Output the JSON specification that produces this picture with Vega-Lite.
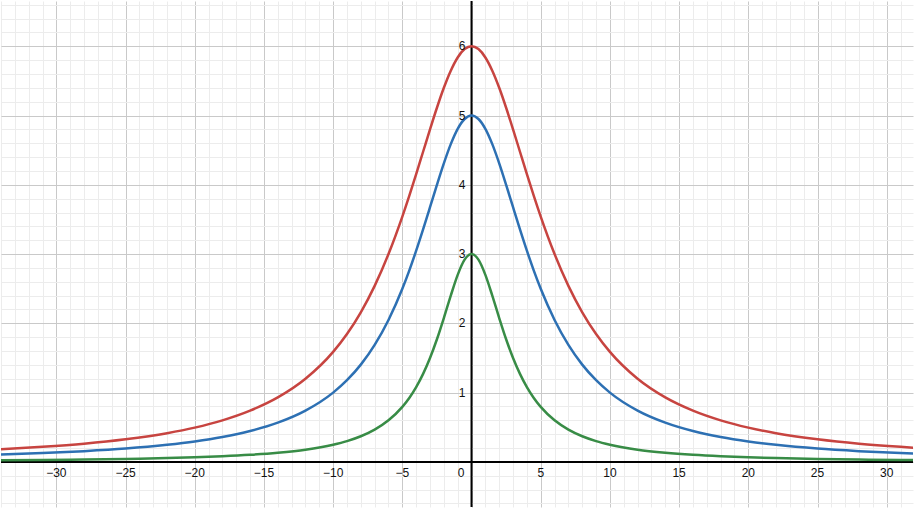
{
  "$schema": "https://vega.github.io/schema/vega-lite/v6.json",
  "width": 914,
  "height": 508,
  "autosize": {"type": "fit", "contains": "padding"},
  "padding": 0,
  "background": "white",
  "config": {"view": {"stroke": null}},
  "datasets": {
    "curves": [
      {"x": -34, "r": 0.181, "b": 0.106, "g": 0.023},
      {"x": -31, "r": 0.217, "b": 0.127, "g": 0.028},
      {"x": -28, "r": 0.263, "b": 0.155, "g": 0.034},
      {"x": -25, "r": 0.327, "b": 0.192, "g": 0.043},
      {"x": -22, "r": 0.415, "b": 0.246, "g": 0.055},
      {"x": -20, "r": 0.495, "b": 0.294, "g": 0.066},
      {"x": -18, "r": 0.6, "b": 0.358, "g": 0.081},
      {"x": -16, "r": 0.74, "b": 0.445, "g": 0.102},
      {"x": -14, "r": 0.931, "b": 0.566, "g": 0.132},
      {"x": -12, "r": 1.2, "b": 0.74, "g": 0.176},
      {"x": -10, "r": 1.588, "b": 1.0, "g": 0.248},
      {"x": -9, "r": 1.846, "b": 1.179, "g": 0.3},
      {"x": -8, "r": 2.16, "b": 1.404, "g": 0.37},
      {"x": -7, "r": 2.541, "b": 1.689, "g": 0.466},
      {"x": -6, "r": 3.0, "b": 2.049, "g": 0.6},
      {"x": -5, "r": 3.541, "b": 2.5, "g": 0.794},
      {"x": -4.5, "r": 3.84, "b": 2.762, "g": 0.923},
      {"x": -4, "r": 4.154, "b": 3.049, "g": 1.08},
      {"x": -3.5, "r": 4.477, "b": 3.356, "g": 1.271},
      {"x": -3, "r": 4.8, "b": 3.676, "g": 1.5},
      {"x": -2.5, "r": 5.112, "b": 4.0, "g": 1.77},
      {"x": -2, "r": 5.4, "b": 4.31, "g": 2.077},
      {"x": -1.5, "r": 5.647, "b": 4.587, "g": 2.4},
      {"x": -1, "r": 5.838, "b": 4.808, "g": 2.7},
      {"x": -0.5, "r": 5.959, "b": 4.95, "g": 2.919},
      {"x": 0, "r": 6, "b": 5, "g": 3},
      {"x": 0.5, "r": 5.959, "b": 4.95, "g": 2.919},
      {"x": 1, "r": 5.838, "b": 4.808, "g": 2.7},
      {"x": 1.5, "r": 5.647, "b": 4.587, "g": 2.4},
      {"x": 2, "r": 5.4, "b": 4.31, "g": 2.077},
      {"x": 2.5, "r": 5.112, "b": 4.0, "g": 1.77},
      {"x": 3, "r": 4.8, "b": 3.676, "g": 1.5},
      {"x": 3.5, "r": 4.477, "b": 3.356, "g": 1.271},
      {"x": 4, "r": 4.154, "b": 3.049, "g": 1.08},
      {"x": 4.5, "r": 3.84, "b": 2.762, "g": 0.923},
      {"x": 5, "r": 3.541, "b": 2.5, "g": 0.794},
      {"x": 6, "r": 3.0, "b": 2.049, "g": 0.6},
      {"x": 7, "r": 2.541, "b": 1.689, "g": 0.466},
      {"x": 8, "r": 2.16, "b": 1.404, "g": 0.37},
      {"x": 9, "r": 1.846, "b": 1.179, "g": 0.3},
      {"x": 10, "r": 1.588, "b": 1.0, "g": 0.248},
      {"x": 12, "r": 1.2, "b": 0.74, "g": 0.176},
      {"x": 14, "r": 0.931, "b": 0.566, "g": 0.132},
      {"x": 16, "r": 0.74, "b": 0.445, "g": 0.102},
      {"x": 18, "r": 0.6, "b": 0.358, "g": 0.081},
      {"x": 20, "r": 0.495, "b": 0.294, "g": 0.066},
      {"x": 22, "r": 0.415, "b": 0.246, "g": 0.055},
      {"x": 25, "r": 0.327, "b": 0.192, "g": 0.043},
      {"x": 28, "r": 0.263, "b": 0.155, "g": 0.034},
      {"x": 31, "r": 0.217, "b": 0.127, "g": 0.028},
      {"x": 32, "r": 0.204, "b": 0.119, "g": 0.026}
    ],
    "xlabels": [
      {"x": -30, "label": "−30"}, {"x": -25, "label": "−25"}, {"x": -20, "label": "−20"},
      {"x": -15, "label": "−15"}, {"x": -10, "label": "−10"}, {"x": -5, "label": "−5"},
      {"x": 5, "label": "5"}, {"x": 10, "label": "10"}, {"x": 15, "label": "15"},
      {"x": 20, "label": "20"}, {"x": 25, "label": "25"}, {"x": 30, "label": "30"}
    ],
    "ylabels": [
      {"y": 1, "label": "1"}, {"y": 2, "label": "2"}, {"y": 3, "label": "3"},
      {"y": 4, "label": "4"}, {"y": 5, "label": "5"}, {"y": 6, "label": "6"}
    ],
    "origin": [{"x": 0, "y": 0, "label": "0"}]
  },
  "layer": [
    {
      "data": {"values": [{"v": 0}]},
      "mark": {"type": "rule", "color": "#000000", "strokeWidth": 2},
      "encoding": {
        "x": {"field": "v", "type": "quantitative",
          "scale": {"domain": [-34.0, 31.9], "nice": false, "zero": false},
          "axis": {"values": [-30, -25, -20, -15, -10, -5, 0, 5, 10, 15, 20, 25, 30], "grid": true, "gridColor": "#c9c9c9", "gridWidth": 1, "labels": false, "ticks": false, "domain": false, "title": null}}
      }
    },
    {
      "data": {"values": [{"v": 0}]},
      "mark": {"type": "rule", "color": "#000000", "strokeWidth": 2},
      "encoding": {
        "y": {"field": "v", "type": "quantitative",
          "scale": {"domain": [-0.651, 6.653], "nice": false, "zero": false},
          "axis": {"values": [0, 1, 2, 3, 4, 5, 6], "grid": true, "gridColor": "#c9c9c9", "gridWidth": 1, "labels": false, "ticks": false, "domain": false, "title": null}}
      }
    },
    {
      "data": {"name": "curves"},
      "transform": [{"fold": ["r", "b", "g"], "as": ["series", "value"]}],
      "mark": {"type": "line", "strokeWidth": 2.5, "interpolate": "monotone", "clip": true},
      "encoding": {
        "x": {"field": "x", "type": "quantitative",
          "scale": {"domain": [-34.0, 31.9], "nice": false, "zero": false},
          "axis": {"values": [-34, -33, -32, -31, -29, -28, -27, -26, -24, -23, -22, -21, -19, -18, -17, -16, -14, -13, -12, -11, -9, -8, -7, -6, -4, -3, -2, -1, 1, 2, 3, 4, 6, 7, 8, 9, 11, 12, 13, 14, 16, 17, 18, 19, 21, 22, 23, 24, 26, 27, 28, 29, 31], "grid": true, "gridColor": "#ececec", "gridWidth": 1, "labels": false, "ticks": false, "domain": false, "title": null}},
        "y": {"field": "value", "type": "quantitative",
          "scale": {"domain": [-0.651, 6.653], "nice": false, "zero": false},
          "axis": {"values": [-0.6, -0.4, -0.2, 0.2, 0.4, 0.6, 0.8, 1.2, 1.4, 1.6, 1.8, 2.2, 2.4, 2.6, 2.8, 3.2, 3.4, 3.6, 3.8, 4.2, 4.4, 4.6, 4.8, 5.2, 5.4, 5.6, 5.8, 6.2, 6.4, 6.6], "grid": true, "gridColor": "#ececec", "gridWidth": 1, "labels": false, "ticks": false, "domain": false, "title": null}},
        "color": {"field": "series", "type": "nominal",
          "scale": {"domain": ["r", "b", "g"], "range": ["#c74440", "#2d70b3", "#388c46"]},
          "legend": null}
      }
    },
    {
      "data": {"name": "xlabels"},
      "mark": {"type": "text", "font": "Liberation Sans", "fontSize": 12, "color": "#111111", "baseline": "middle", "align": "center", "dy": 11},
      "encoding": {
        "x": {"field": "x", "type": "quantitative", "scale": {"domain": [-34.0, 31.9], "nice": false, "zero": false}, "axis": null},
        "y": {"datum": 0, "type": "quantitative", "scale": {"domain": [-0.651, 6.653], "nice": false, "zero": false}, "axis": null},
        "text": {"field": "label"}
      }
    },
    {
      "data": {"name": "ylabels"},
      "mark": {"type": "text", "font": "Liberation Sans", "fontSize": 12, "color": "#111111", "baseline": "middle", "align": "right", "dx": -6},
      "encoding": {
        "x": {"datum": 0, "type": "quantitative", "scale": {"domain": [-34.0, 31.9], "nice": false, "zero": false}, "axis": null},
        "y": {"field": "y", "type": "quantitative", "scale": {"domain": [-0.651, 6.653], "nice": false, "zero": false}, "axis": null},
        "text": {"field": "label"}
      }
    },
    {
      "data": {"name": "origin"},
      "mark": {"type": "text", "font": "Liberation Sans", "fontSize": 12, "color": "#111111", "baseline": "middle", "align": "right", "dx": -7, "dy": 11},
      "encoding": {
        "x": {"field": "x", "type": "quantitative", "scale": {"domain": [-34.0, 31.9], "nice": false, "zero": false}, "axis": null},
        "y": {"field": "y", "type": "quantitative", "scale": {"domain": [-0.651, 6.653], "nice": false, "zero": false}, "axis": null},
        "text": {"field": "label"}
      }
    }
  ],
  "resolve": {"axis": {"x": "independent", "y": "independent"}}
}
